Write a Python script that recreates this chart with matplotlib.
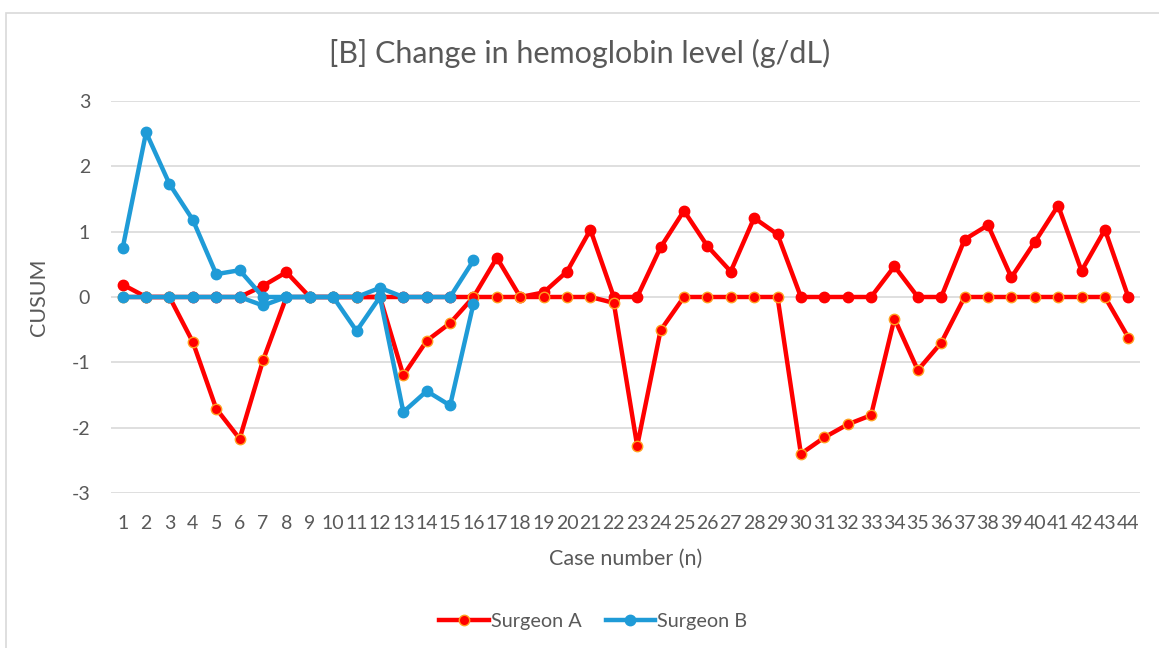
import matplotlib
matplotlib.use("Agg")
import matplotlib.pyplot as plt
from matplotlib.patches import Rectangle
from matplotlib.lines import Line2D

# --- DATA --- #
cases = list(range(1, 45))

surgeon_a_upper = [0.19, 0, 0, 0, 0, 0, 0.17, 0.38, 0, 0, 0, 0, 0, 0, 0, 0,
                   0.60, 0, 0.07, 0.39, 1.03, 0, 0, 0.76, 1.32, 0.78, 0.39, 1.21, 0.96, 0,
                   0, 0, 0, 0.47, 0, 0, 0.88, 1.10, 0.30, 0.84, 1.40, 0.40, 1.03, 0]
surgeon_a_lower = [0, 0, 0, -0.69, -1.71, -2.17, -0.97, 0, 0, 0, 0, 0, -1.20, -0.67, -0.40, 0,
                   0, 0, 0, 0, 0, -0.09, -2.28, -0.51, 0, 0, 0, 0, 0, -2.40,
                   -2.15, -1.95, -1.81, -0.33, -1.12, -0.70, 0, 0, 0, 0, 0, 0, 0, -0.62]

surgeon_b_cases = list(range(1, 17))
surgeon_b_upper = [0.75, 2.52, 1.73, 1.18, 0.35, 0.41, 0, 0, 0, 0, 0, 0.14, 0, 0, 0, 0.56]
surgeon_b_lower = [0, 0, 0, 0, 0, 0, -0.13, 0, 0, 0, -0.52, 0, -1.76, -1.44, -1.66, -0.10]

y_ticks = [-3, -2, -1, 0, 1, 2, 3]

RED = "#FF0000"
ORANGE = "#FFA020"
BLUE = "#1F9BD7"
GREY = "#595959"

plt.rcParams['font.family'] = ['Lato', 'DejaVu Sans']

fig = plt.figure(figsize=(11.59, 6.48), dpi=100)
fig.patches.append(Rectangle((6 / 1159, -0.05), 1.2, 1 - 13 / 648 + 0.05,
                             transform=fig.transFigure, fill=False,
                             edgecolor="#D9D9D9", linewidth=1.2))

ax = fig.add_axes([111 / 1159, 1 - 493 / 648, (1140 - 111) / 1159, (493 - 101) / 648])

lw = 3.2
ms = 7.5
ax.plot(cases, surgeon_a_upper, color=RED, lw=lw, marker='o', ms=ms,
        markerfacecolor=RED, markeredgecolor=RED, zorder=3)
ax.plot(cases, surgeon_a_lower, color=RED, lw=lw, marker='o', ms=ms,
        markerfacecolor=RED, markeredgecolor=ORANGE, markeredgewidth=1.0, zorder=3)
ax.plot(surgeon_b_cases, surgeon_b_upper, color=BLUE, lw=lw, marker='o', ms=ms,
        markerfacecolor=BLUE, markeredgecolor=BLUE, zorder=4)
ax.plot(surgeon_b_cases, surgeon_b_lower, color=BLUE, lw=lw, marker='o', ms=ms,
        markerfacecolor=BLUE, markeredgecolor=BLUE, zorder=4)

ax.set_xlim(0.5, 44.5)
ax.set_ylim(-3, 3)
ax.set_yticks(y_ticks)
ax.set_yticklabels([str(t) for t in y_ticks])
ax.set_xticks(cases)
ax.set_xticklabels([str(c) for c in cases])
ax.grid(axis='y', color="#D9D9D9", linewidth=1.2)
ax.set_axisbelow(True)
for s in ax.spines.values():
    s.set_visible(False)
ax.tick_params(axis='both', length=0, colors=GREY, labelsize=14)
ax.tick_params(axis='x', pad=16)
ax.tick_params(axis='y', pad=15)

ax.set_xlabel("Case number (n)", fontsize=15.5, color=GREY, labelpad=12)
ax.set_ylabel("CUSUM", fontsize=15.5, color=GREY, labelpad=16)
fig.text(0.5, 1 - 53 / 648, "[B] Change in hemoglobin level (g/dL)",
         ha='center', va='center', fontsize=22, color=GREY)

handles = [
    Line2D([0], [0], color=RED, lw=lw, marker='o', ms=ms,
           markerfacecolor=RED, markeredgecolor=ORANGE),
    Line2D([0], [0], color=BLUE, lw=lw, marker='o', ms=ms,
           markerfacecolor=BLUE, markeredgecolor=BLUE),
]
fig.legend(handles, ["Surgeon A", "Surgeon B"], loc='center',
           bbox_to_anchor=(0.512, 1 - 621 / 648), ncol=2, frameon=False,
           fontsize=14.3, labelcolor=GREY, handlelength=2.5, handletextpad=0.1,
           columnspacing=1.2)

fig.savefig("out.png", dpi=100)
